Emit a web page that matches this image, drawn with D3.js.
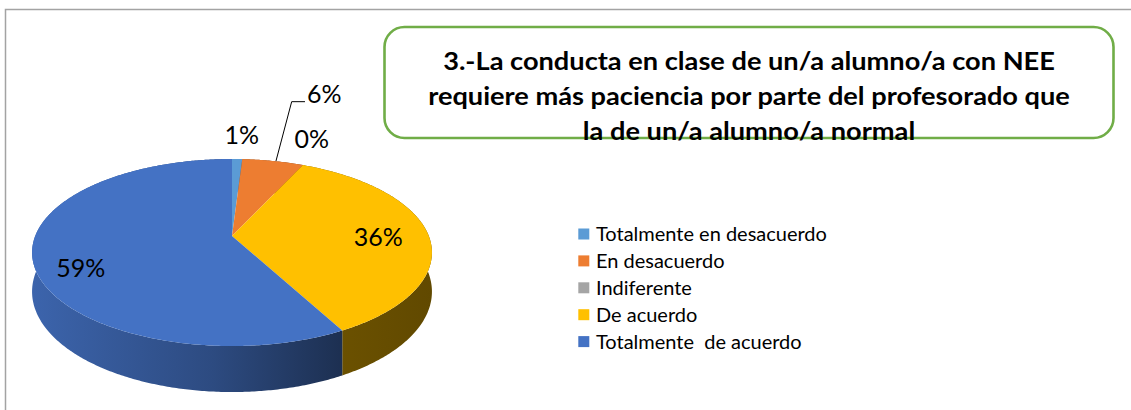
<!DOCTYPE html>
<html>
<head>
<meta charset="utf-8">
<script src="https://cdn.jsdelivr.net/npm/d3@7"></script>
<style>
body{margin:0;background:#fff;overflow:hidden}
text{font-family:Lato,"Noto Sans",sans-serif;white-space:pre}
</style>
</head>
<body>
<svg id="chart"></svg>
<script>
var categories = ["Totalmente en desacuerdo","En desacuerdo","Indiferente","De acuerdo","Totalmente  de acuerdo"]
var percents = [1,6,0,36,59]
var colors = ["#5B9BD5","#ED7D31","#A5A5A5","#FFC000","#4472C4"]
var titleLines = ["3.-La conducta en clase de un/a alumno/a con NEE","requiere más paciencia por parte del profesorado que","la de un/a alumno/a normal"]

var screen = {width:1131,height:410}
//3d pie: apex, radii, perspective, thickness
var pie3d = {cx:232,cy:236,sx:196.8,sy:90.6,persp:0.1765,depth:37.9}
//label nudges from the anchor (outside ones from rim, inside ones from r=0.74)
var labelNudge = [[4.5,-24],[18.7,-59.3],[8.8,-26],[1.3,2.8],[-5.4,15.4]]
var insideLabel = [false,false,false,true,true]

var svg = d3.select("#chart")
    .attr("width",screen.width)
    .attr("height",screen.height)

//chart area border (only top and left visible)
svg.append("rect")
    .attr("x",5.5).attr("y",9.5)
    .attr("width",1200).attr("height",500)
    .attr("fill","none")
    .attr("stroke","#a3a3a3")
    .attr("stroke-width",1.5)

var proj = function(ang,r,z)
{
    var u = r*Math.sin(ang), v = -r*Math.cos(ang)
    var d = 1 - pie3d.persp*v
    return [pie3d.cx + pie3d.sx*u/d, pie3d.cy + (pie3d.sy*v + z)/d]
}
var arcPts = function(a0,a1,r,z)
{
    var n = Math.max(2,Math.ceil((a1-a0)/0.01))
    return d3.range(n+1).map(function(i){return proj(a0+(a1-a0)*i/n,r,z)})
}

var slices = d3.pie().sort(null).value(function(d){return d})(percents)
var line = d3.line()

//side shading gradient
var xLeft = pie3d.cx - pie3d.sx/Math.sqrt(1-pie3d.persp*pie3d.persp)
var xRight = pie3d.cx + pie3d.sx/Math.sqrt(1-pie3d.persp*pie3d.persp)
var shade = [[0,0.88],[0.45,0.66],[0.77,0.42],[1,0.38]]
var defs = svg.append("defs")
colors.forEach(function(c,i)
{
    var g = defs.append("linearGradient")
        .attr("id","side"+i)
        .attr("gradientUnits","userSpaceOnUse")
        .attr("x1",xLeft).attr("x2",xRight).attr("y1",0).attr("y2",0)
    shade.forEach(function(s)
    {
        var col = d3.rgb(c)
        g.append("stop")
            .attr("offset",s[0])
            .attr("stop-color",d3.rgb(col.r*s[1],col.g*s[1],col.b*s[1]))
    })
})

//side walls
svg.append("g").selectAll("path")
    .data(slices)
    .enter()
    .append("path")
    .attr("d",function(s)
    {
        var top = arcPts(s.startAngle,s.endAngle,1,0)
        var bot = arcPts(s.startAngle,s.endAngle,1,pie3d.depth).reverse()
        return line(top.concat(bot))+"Z"
    })
    .attr("fill",function(s,i){return "url(#side"+i+")"})

//top faces
svg.append("g").selectAll("path")
    .data(slices)
    .enter()
    .append("path")
    .attr("d",function(s)
    {
        return line([[pie3d.cx,pie3d.cy]].concat(arcPts(s.startAngle,s.endAngle,1,0)))+"Z"
    })
    .attr("fill",function(s,i){return colors[i]})

//legend first to get the text squeeze
var legend = svg.append("g")
var rows = legend.selectAll("g")
    .data(categories)
    .enter()
    .append("g")
    .attr("transform",function(d,i){return "translate(578.3,"+(234+i*26.9)+")"})
rows.append("rect")
    .attr("x",0).attr("y",-5.5)
    .attr("width",11).attr("height",11)
    .attr("fill",function(d,i){return colors[i]})
var legendText = rows.append("text")
    .attr("font-size",20)
    .attr("fill","#000")
    .text(function(d){return d})
var squeeze = 231/legendText.node().getComputedTextLength()
legendText.attr("transform","translate(17.7,7) scale("+squeeze+",1)")

//data labels
var labels = svg.append("g")
slices.forEach(function(s,i)
{
    var mid = (s.startAngle+s.endAngle)/2
    var p = proj(mid,insideLabel[i]?0.74:1,0)
    var txt = percents[i]+"%"
    if(i==1)
    {
        //leader line for the small orange slice
        var rim = [p[0]+3,p[1]]
        var elbow = [p[0]+labelNudge[i][0],p[1]+labelNudge[i][1]]
        var end = [elbow[0]+13.3,elbow[1]]
        labels.append("path")
            .attr("d",line([rim,elbow,end]))
            .attr("fill","none")
            .attr("stroke","#000")
            .attr("stroke-width",1)
        labels.append("text")
            .attr("font-size",25)
            .attr("transform","translate("+(end[0]+2)+","+(end[1]+1.6)+") scale("+squeeze+",1)")
            .text(txt)
    }
    else
    {
        labels.append("text")
            .attr("font-size",25)
            .attr("text-anchor","middle")
            .attr("transform","translate("+(p[0]+labelNudge[i][0])+","+(p[1]+labelNudge[i][1]+9)+") scale("+squeeze+",1)")
            .text(txt)
    }
})

//title box
svg.append("rect")
    .attr("x",384.5).attr("y",27)
    .attr("width",729).attr("height",111)
    .attr("rx",20).attr("ry",20)
    .attr("fill","#fff")
    .attr("stroke","#70AD47")
    .attr("stroke-width",2.6)
var titles = svg.append("g").selectAll("text")
    .data(titleLines)
    .enter()
    .append("text")
    .attr("font-size",24)
    .attr("font-weight","bold")
    .attr("text-anchor","middle")
    .attr("fill","#000")
    .text(function(d){return d})
var tSqueeze = 612/titles.node().getComputedTextLength()
titles.attr("transform",function(d,i){return "translate(749,"+(70.3+i*35)+") scale("+tSqueeze+",1)"})
</script>
</body>
</html>
